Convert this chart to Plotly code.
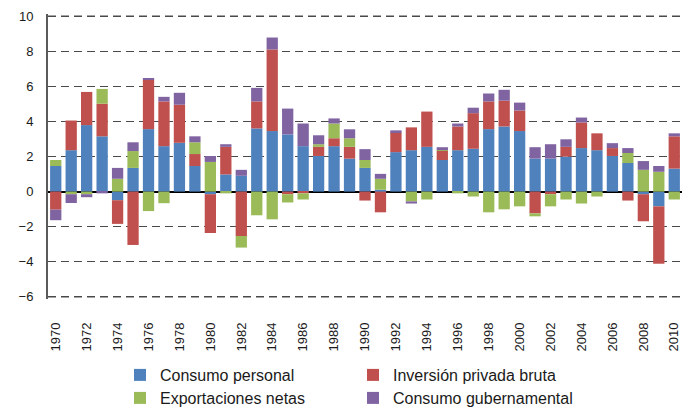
import plotly.graph_objects as go

# ── Colours (Excel-style palette) ────────────────────────────────────────────
COLORS = {
    "personal": "#4F81BD",
    "inversion": "#C0504D",
    "export": "#9BBB59",
    "gob": "#8064A2",
    "grid": "#4A4A4A",
    "text": "#1A1A1A",
}
FONT = "Liberation Sans, Arial, Helvetica, sans-serif"

# ── Data (percentage-point contributions to GDP growth) ─────────────────────
years = list(range(1970, 2011))
year_ticks = list(range(1970, 2011, 2))
y_ticks = list(range(-6, 11, 2))

consumo_personal = [
    1.46, 2.36, 3.79, 3.15, -0.49, 1.35, 3.56, 2.59, 2.78, 1.46,
    -0.15, 0.98, 0.90, 3.60, 3.45, 3.26, 2.59, 2.03, 2.59, 1.88,
    1.35, 0.11, 2.25, 2.36, 2.55, 1.80, 2.36, 2.44, 3.56, 3.71,
    3.45, 1.88, 1.88, 1.99, 2.48, 2.36, 2.03, 1.63, -0.15, -0.84,
    1.31,
]
inversion_privada = [
    -1.03, 1.69, 1.89, 1.86, -1.35, -3.04, 2.82, 2.55, 2.17, 0.68,
    -2.21, 1.57, -2.53, 1.54, 4.65, -0.15, -0.10, 0.52, 0.45, 0.67,
    -0.51, -1.18, 1.13, 1.30, 2.01, 0.53, 1.35, 2.03, 1.58, 1.47,
    1.17, -1.24, -0.15, 0.56, 1.46, 0.96, 0.45, -0.51, -1.54, -3.27,
    1.84,
]
exportaciones_netas = [
    0.34, -0.15, -0.15, 0.84, 0.73, 0.96, -1.11, -0.66, 0.00, 0.67,
    1.69, -0.10, -0.66, -1.35, -1.58, -0.47, -0.35, 0.15, 0.84, 0.49,
    0.45, 0.62, 0.00, -0.56, -0.45, 0.03, -0.10, -0.28, -1.18, -1.01,
    -0.84, -0.17, -0.69, -0.45, -0.68, -0.28, 0.00, 0.57, 1.24, 1.13,
    -0.45,
]
consumo_gubernamental = [
    -0.60, -0.50, -0.17, -0.10, 0.62, 0.50, 0.09, 0.26, 0.68, 0.34,
    0.34, 0.15, 0.34, 0.77, 0.68, 1.47, 1.29, 0.51, 0.29, 0.51,
    0.62, 0.28, 0.11, -0.12, 0.00, 0.17, 0.17, 0.31, 0.45, 0.62,
    0.45, 0.65, 0.82, 0.43, 0.28, 0.00, 0.28, 0.28, 0.50, 0.33,
    0.17,
]

series = [
    ("Consumo personal", consumo_personal, COLORS["personal"], "legend"),
    ("Inversión privada bruta", inversion_privada, COLORS["inversion"], "legend"),
    ("Exportaciones netas", exportaciones_netas, COLORS["export"], "legend2"),
    ("Consumo gubernamental", consumo_gubernamental, COLORS["gob"], "legend2"),
]

fig = go.Figure()
for name, vals, color, leg in series:
    fig.add_trace(go.Bar(
        x=years,
        y=vals,
        name=name,
        marker=dict(color=color, line=dict(width=0)),
        legend=leg,
    ))

# plotly skips the grid lines at the range ends, so draw those two as shapes
for v in (y_ticks[0], y_ticks[-1]):
    fig.add_shape(
        type="line", xref="paper", yref="y",
        x0=0, x1=1, y0=v, y1=v,
        line=dict(color=COLORS["grid"], width=1.3, dash="8px,5px"),
        layer="above",
    )

# two one-row legends give the 2x2 legend block under the chart
legend_style = dict(
    orientation="h",
    xanchor="left",
    yanchor="middle",
    yref="container",
    x=0.1136,
    font=dict(size=16, color=COLORS["text"], family=FONT),
    entrywidth=188,
    itemwidth=30,
    bgcolor="rgba(0,0,0,0)",
)

fig.update_layout(
    barmode="relative",
    bargap=0.27,
    width=684,
    height=407,
    paper_bgcolor="white",
    plot_bgcolor="white",
    font=dict(family=FONT, color=COLORS["text"]),
    margin=dict(t=14, b=108, l=48, r=2),
    xaxis=dict(
        range=[1969.5, 2010.5],
        tickvals=year_ticks,
        ticktext=[str(y) for y in year_ticks],
        tickangle=-90,
        tickfont=dict(size=13),
        ticklabelstandoff=20,
        showgrid=False,
        zeroline=False,
        ticks="",
    ),
    yaxis=dict(
        range=[-6.12, 10.12],
        tickvals=y_ticks,
        tickfont=dict(size=13),
        ticklabelstandoff=10,
        showgrid=True,
        gridcolor=COLORS["grid"],
        gridwidth=1.3,
        griddash="8px,5px",
        zeroline=True,
        zerolinecolor="black",
        zerolinewidth=2,
        showline=True,
        linecolor="#5A5A5A",
        linewidth=2,
        ticks="",
    ),
    legend=dict(y=1 - 375 / 407, **legend_style),
    legend2=dict(y=1 - 398 / 407, **legend_style),
)

fig.write_html(
    "out.html",
    config={"displayModeBar": False},
    post_script="document.body.style.margin='0';",
)
